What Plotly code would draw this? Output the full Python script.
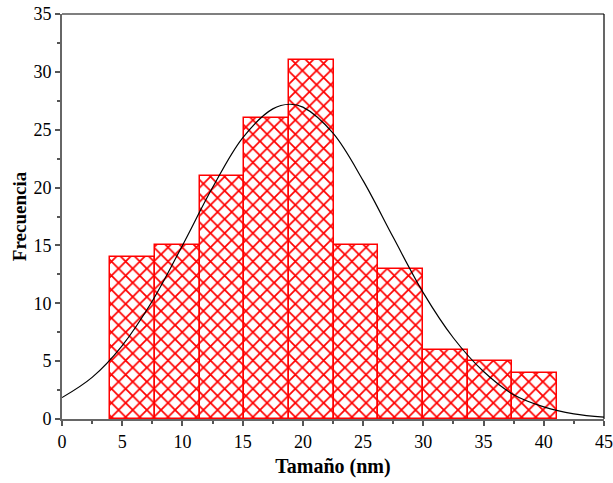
import plotly.graph_objects as go

# Histogram data
bin_left_edges = [4.0, 7.71, 11.42, 15.13, 18.84, 22.55, 26.26, 29.97, 33.68, 37.39]
bin_width = 3.71
counts = [14, 15, 21, 26, 31, 15, 13, 6, 5, 4]

# Fitted curve, points
curve_x = [0, 2.5, 5, 7.5, 10, 12.5, 15, 17.5, 18.9, 20, 22.5, 25, 27.5, 30, 32.5, 35, 37.5, 40, 42.5, 45]
curve_y = [1.85, 3.6, 6.35, 10.2, 15.0, 20.0, 24.3, 26.8, 27.2, 26.95, 24.7, 20.6, 15.7, 10.9, 7.0, 4.1, 2.1, 1.05, 0.45, 0.17]

x_ticks = [0, 5, 10, 15, 20, 25, 30, 35, 40, 45]
y_ticks = [0, 5, 10, 15, 20, 25, 30, 35]

centers = [e + bin_width / 2 for e in bin_left_edges]

fig = go.Figure()
fig.add_trace(go.Bar(
    x=centers, y=counts, width=[bin_width] * len(counts),
    marker=dict(
        color="white",
        line=dict(color="#ff0000", width=1.5),
        pattern=dict(shape="x", fgcolor="#ff0000", fgopacity=1, bgcolor="white", size=10, solidity=0.32),
    ),
    showlegend=False,
))
fig.add_trace(go.Scatter(
    x=curve_x, y=curve_y, mode="lines", line=dict(color="black", width=1.2, shape="spline"),
    showlegend=False,
))

font_family = "Liberation Serif"
fig.update_layout(
    width=613, height=483,
    margin=dict(l=62, r=9, t=14, b=64),
    paper_bgcolor="white", plot_bgcolor="white",
    font=dict(family=font_family, size=18, color="black"),
    bargap=0,
)
fig.update_xaxes(
    range=[0, 45], tickmode="array", tickvals=x_ticks, ticktext=[str(v) for v in x_ticks],
    ticks="outside", ticklen=5, tickwidth=1.5, tickcolor="#555",
    tickfont_family=font_family, tickfont_size=18, tickfont_color="black", automargin=False,
    showline=True, linecolor="#666", linewidth=2, showgrid=False, zeroline=False,
    minor=dict(dtick=2.5, tick0=0, ticks="outside", ticklen=3, tickcolor="#555", showgrid=False),
    title=dict(text="<b>Tamaño (nm)</b>", font=dict(size=20, family=font_family), standoff=8),
)
fig.update_yaxes(
    range=[0, 35], tickmode="array", tickvals=y_ticks, ticktext=[str(v) for v in y_ticks],
    ticks="outside", ticklen=5, tickwidth=1.5, tickcolor="#555",
    tickfont_family=font_family, tickfont_size=18, tickfont_color="black", automargin=False,
    showline=True, linecolor="#666", linewidth=2, showgrid=False, zeroline=False,
    minor=dict(dtick=2.5, tick0=0, ticks="outside", ticklen=3, tickcolor="#555", showgrid=False),
    title=dict(text="<b>Frecuencia</b>", font=dict(size=19, family=font_family), standoff=2),
)
fig.update_layout(shapes=[
    dict(type="line", xref="paper", yref="paper", x0=0, x1=1, y0=1, y1=1, line=dict(color="black", width=1.2)),
    dict(type="line", xref="paper", yref="paper", x0=1, x1=1, y0=0, y1=1, line=dict(color="black", width=1.2)),
])

fig.write_html("out.html")
